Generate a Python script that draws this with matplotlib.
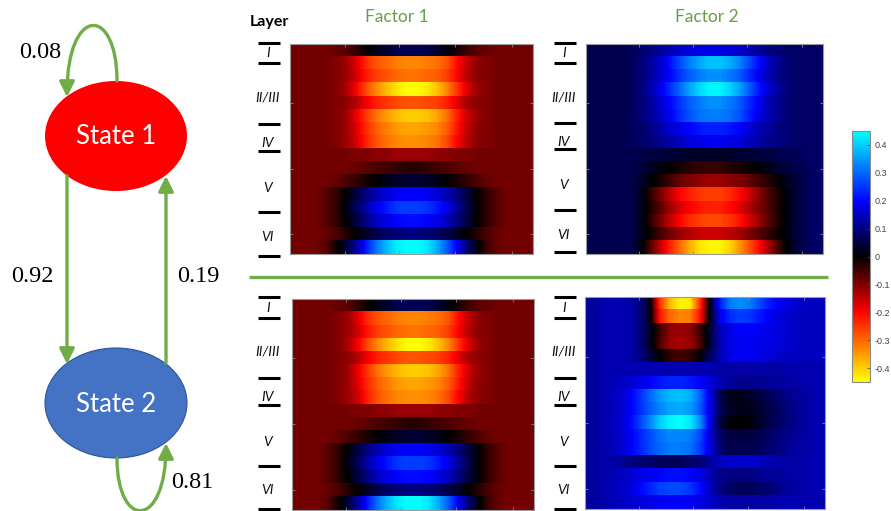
"""
Two-state HMM summary figure: transition diagram on the left,
laminar factor maps for each state on the right.
"""

import matplotlib

matplotlib.use("Agg")

import matplotlib.pyplot as plt
import numpy as np
from matplotlib.colors import LinearSegmentedColormap, Normalize
from matplotlib.patches import Ellipse, FancyArrowPatch
from matplotlib.path import Path

W, H = 891, 511
GREEN = "#70AD47"

# ---------- transition probabilities ----------
P_STAY_1 = 0.08
P_1_TO_2 = 0.92
P_2_TO_1 = 0.19
P_STAY_2 = 0.81

STATE_NAMES = ["State 1", "State 2"]
FACTOR_NAMES = ["Factor 1", "Factor 2"]
LAYER_NAMES = ["I", "II/III", "IV", "V", "VI"]
CBAR_TICKS = [-0.4, -0.3, -0.2, -0.1, 0.0, 0.1, 0.2, 0.3, 0.4]

# ---------- factor loadings (16 depth rows x 24 time bins) ----------
factor1_state1 = [
    [-0.09, -0.09, -0.09, -0.09, -0.08, -0.07, -0.04, -0.01, 0.02, 0.04, 0.06, 0.07, 0.07, 0.06, 0.04, 0.01, -0.02, -0.05, -0.07, -0.08, -0.09, -0.09, -0.09, -0.09],
    [-0.09, -0.09, -0.09, -0.09, -0.10, -0.12, -0.17, -0.24, -0.28, -0.30, -0.32, -0.33, -0.33, -0.32, -0.31, -0.28, -0.21, -0.15, -0.11, -0.10, -0.09, -0.09, -0.09, -0.09],
    [-0.09, -0.09, -0.09, -0.09, -0.10, -0.12, -0.16, -0.22, -0.26, -0.28, -0.30, -0.31, -0.31, -0.30, -0.29, -0.26, -0.20, -0.14, -0.11, -0.10, -0.09, -0.09, -0.09, -0.09],
    [-0.09, -0.09, -0.09, -0.09, -0.10, -0.13, -0.19, -0.27, -0.33, -0.38, -0.42, -0.45, -0.45, -0.43, -0.39, -0.33, -0.25, -0.17, -0.12, -0.10, -0.09, -0.09, -0.09, -0.09],
    [-0.09, -0.09, -0.09, -0.09, -0.10, -0.11, -0.14, -0.19, -0.23, -0.25, -0.27, -0.28, -0.28, -0.27, -0.26, -0.23, -0.18, -0.13, -0.11, -0.10, -0.09, -0.09, -0.09, -0.09],
    [-0.09, -0.09, -0.09, -0.09, -0.10, -0.12, -0.18, -0.25, -0.31, -0.35, -0.38, -0.40, -0.40, -0.39, -0.36, -0.31, -0.23, -0.16, -0.12, -0.10, -0.09, -0.09, -0.09, -0.09],
    [-0.09, -0.09, -0.09, -0.09, -0.10, -0.12, -0.17, -0.24, -0.29, -0.32, -0.35, -0.36, -0.36, -0.35, -0.33, -0.29, -0.22, -0.15, -0.11, -0.10, -0.09, -0.09, -0.09, -0.09],
    [-0.09, -0.09, -0.09, -0.09, -0.10, -0.12, -0.16, -0.23, -0.28, -0.31, -0.33, -0.34, -0.34, -0.33, -0.31, -0.27, -0.20, -0.14, -0.11, -0.10, -0.09, -0.09, -0.09, -0.09],
    [-0.09, -0.09, -0.09, -0.09, -0.09, -0.09, -0.10, -0.10, -0.11, -0.11, -0.12, -0.12, -0.12, -0.12, -0.11, -0.11, -0.10, -0.10, -0.09, -0.09, -0.09, -0.09, -0.09, -0.09],
    [-0.09, -0.09, -0.09, -0.09, -0.09, -0.09, -0.08, -0.07, -0.06, -0.05, -0.04, -0.03, -0.03, -0.04, -0.05, -0.06, -0.07, -0.08, -0.09, -0.09, -0.09, -0.09, -0.09, -0.09],
    [-0.09, -0.09, -0.09, -0.09, -0.08, -0.06, -0.04, -0.02, 0.00, 0.02, 0.03, 0.04, 0.04, 0.03, 0.02, 0.00, -0.02, -0.04, -0.06, -0.08, -0.09, -0.09, -0.09, -0.09],
    [-0.09, -0.09, -0.09, -0.07, -0.04, 0.00, 0.05, 0.10, 0.14, 0.17, 0.19, 0.20, 0.20, 0.19, 0.17, 0.14, 0.10, 0.05, 0.00, -0.04, -0.07, -0.09, -0.09, -0.09],
    [-0.09, -0.09, -0.09, -0.07, -0.04, 0.01, 0.07, 0.13, 0.18, 0.22, 0.25, 0.26, 0.26, 0.25, 0.22, 0.18, 0.12, 0.06, 0.00, -0.04, -0.07, -0.09, -0.09, -0.09],
    [-0.09, -0.09, -0.09, -0.07, -0.04, 0.00, 0.05, 0.10, 0.15, 0.18, 0.20, 0.21, 0.21, 0.20, 0.18, 0.15, 0.10, 0.05, 0.00, -0.04, -0.07, -0.09, -0.09, -0.09],
    [-0.09, -0.09, -0.09, -0.08, -0.06, -0.03, 0.00, 0.03, 0.06, 0.08, 0.09, 0.10, 0.10, 0.09, 0.08, 0.06, 0.03, 0.00, -0.03, -0.06, -0.08, -0.09, -0.09, -0.09],
    [-0.09, -0.09, -0.09, -0.07, -0.02, 0.04, 0.12, 0.22, 0.31, 0.38, 0.43, 0.45, 0.45, 0.43, 0.37, 0.29, 0.19, 0.09, 0.01, -0.05, -0.08, -0.09, -0.09, -0.09],
]

factor2_state1 = [
    [0.06, 0.06, 0.06, 0.06, 0.07, 0.08, 0.10, 0.12, 0.14, 0.16, 0.17, 0.18, 0.18, 0.18, 0.17, 0.16, 0.14, 0.12, 0.10, 0.09, 0.08, 0.08, 0.08, 0.08],
    [0.06, 0.06, 0.06, 0.06, 0.07, 0.09, 0.12, 0.16, 0.21, 0.27, 0.32, 0.36, 0.39, 0.39, 0.37, 0.33, 0.27, 0.21, 0.15, 0.11, 0.09, 0.08, 0.08, 0.08],
    [0.06, 0.06, 0.06, 0.06, 0.07, 0.09, 0.12, 0.16, 0.20, 0.25, 0.29, 0.32, 0.34, 0.34, 0.32, 0.29, 0.24, 0.19, 0.14, 0.11, 0.09, 0.08, 0.08, 0.08],
    [0.06, 0.06, 0.06, 0.06, 0.07, 0.09, 0.13, 0.18, 0.24, 0.30, 0.36, 0.41, 0.44, 0.44, 0.41, 0.36, 0.29, 0.22, 0.16, 0.12, 0.09, 0.08, 0.08, 0.08],
    [0.06, 0.06, 0.06, 0.06, 0.07, 0.09, 0.12, 0.16, 0.20, 0.25, 0.29, 0.32, 0.34, 0.34, 0.32, 0.29, 0.24, 0.19, 0.14, 0.11, 0.09, 0.08, 0.08, 0.08],
    [0.06, 0.06, 0.06, 0.06, 0.07, 0.09, 0.12, 0.15, 0.19, 0.24, 0.28, 0.31, 0.32, 0.32, 0.31, 0.28, 0.23, 0.18, 0.14, 0.11, 0.09, 0.08, 0.08, 0.08],
    [0.06, 0.06, 0.06, 0.06, 0.07, 0.08, 0.10, 0.13, 0.16, 0.18, 0.20, 0.22, 0.23, 0.23, 0.22, 0.20, 0.17, 0.14, 0.12, 0.10, 0.09, 0.08, 0.08, 0.08],
    [0.06, 0.06, 0.06, 0.06, 0.07, 0.08, 0.09, 0.11, 0.13, 0.15, 0.17, 0.18, 0.19, 0.19, 0.18, 0.17, 0.15, 0.13, 0.11, 0.10, 0.09, 0.08, 0.08, 0.08],
    [0.06, 0.06, 0.06, 0.06, 0.06, 0.06, 0.05, 0.05, 0.04, 0.04, 0.03, 0.03, 0.03, 0.03, 0.03, 0.04, 0.04, 0.05, 0.05, 0.06, 0.07, 0.07, 0.08, 0.08],
    [0.06, 0.06, 0.06, 0.06, 0.06, 0.05, 0.03, 0.01, 0.00, -0.02, -0.03, -0.04, -0.04, -0.04, -0.03, -0.02, -0.01, 0.00, 0.02, 0.04, 0.05, 0.06, 0.07, 0.08],
    [0.06, 0.06, 0.06, 0.06, 0.06, 0.04, 0.01, -0.02, -0.05, -0.08, -0.10, -0.11, -0.12, -0.12, -0.11, -0.10, -0.08, -0.05, -0.03, 0.00, 0.03, 0.05, 0.07, 0.08],
    [0.06, 0.06, 0.06, 0.06, 0.06, 0.03, -0.03, -0.09, -0.15, -0.20, -0.23, -0.25, -0.26, -0.26, -0.24, -0.21, -0.16, -0.11, -0.06, -0.02, 0.02, 0.05, 0.07, 0.08],
    [0.06, 0.06, 0.06, 0.06, 0.06, 0.03, -0.02, -0.07, -0.12, -0.17, -0.20, -0.22, -0.23, -0.23, -0.21, -0.18, -0.14, -0.10, -0.06, -0.02, 0.02, 0.05, 0.07, 0.08],
    [0.06, 0.06, 0.06, 0.06, 0.06, 0.03, -0.03, -0.09, -0.15, -0.20, -0.24, -0.26, -0.27, -0.27, -0.25, -0.22, -0.17, -0.12, -0.07, -0.02, 0.02, 0.05, 0.07, 0.08],
    [0.06, 0.06, 0.06, 0.06, 0.06, 0.03, -0.01, -0.05, -0.09, -0.12, -0.14, -0.16, -0.16, -0.16, -0.15, -0.13, -0.10, -0.07, -0.04, -0.01, 0.02, 0.05, 0.07, 0.08],
    [0.06, 0.06, 0.06, 0.06, 0.06, 0.02, -0.06, -0.15, -0.23, -0.30, -0.37, -0.42, -0.44, -0.44, -0.41, -0.35, -0.28, -0.21, -0.13, -0.05, 0.01, 0.05, 0.07, 0.08],
]

# factor 1 comes out the same in both states
factor1_state2 = factor1_state1

factor2_state2 = [
    [0.12, 0.13, 0.14, 0.14, 0.13, 0.10, 0.02, -0.25, -0.38, -0.44, -0.43, -0.25, 0.02, 0.22, 0.32, 0.34, 0.32, 0.27, 0.22, 0.19, 0.17, 0.16, 0.15, 0.15],
    [0.12, 0.13, 0.14, 0.14, 0.13, 0.10, 0.02, -0.22, -0.30, -0.33, -0.32, -0.22, 0.02, 0.18, 0.24, 0.26, 0.25, 0.22, 0.19, 0.17, 0.16, 0.15, 0.15, 0.15],
    [0.12, 0.13, 0.14, 0.14, 0.13, 0.10, 0.03, -0.05, -0.11, -0.12, -0.11, -0.05, 0.04, 0.14, 0.18, 0.20, 0.20, 0.19, 0.18, 0.17, 0.16, 0.15, 0.15, 0.15],
    [0.12, 0.13, 0.14, 0.14, 0.13, 0.10, 0.03, -0.06, -0.12, -0.13, -0.12, -0.06, 0.04, 0.14, 0.18, 0.19, 0.19, 0.18, 0.18, 0.17, 0.16, 0.15, 0.15, 0.15],
    [0.12, 0.13, 0.14, 0.14, 0.13, 0.10, 0.05, 0.00, -0.04, -0.05, -0.04, 0.00, 0.07, 0.14, 0.18, 0.19, 0.19, 0.18, 0.17, 0.16, 0.15, 0.15, 0.15, 0.15],
    [0.12, 0.13, 0.14, 0.14, 0.14, 0.14, 0.14, 0.14, 0.14, 0.14, 0.14, 0.14, 0.14, 0.13, 0.13, 0.13, 0.13, 0.13, 0.13, 0.13, 0.14, 0.14, 0.14, 0.14],
    [0.12, 0.13, 0.14, 0.15, 0.16, 0.18, 0.20, 0.22, 0.23, 0.23, 0.22, 0.20, 0.17, 0.14, 0.12, 0.11, 0.11, 0.11, 0.12, 0.12, 0.13, 0.13, 0.14, 0.14],
    [0.12, 0.13, 0.14, 0.16, 0.19, 0.24, 0.30, 0.35, 0.38, 0.39, 0.37, 0.30, 0.18, 0.06, 0.02, 0.02, 0.03, 0.05, 0.07, 0.09, 0.11, 0.12, 0.13, 0.14],
    [0.12, 0.13, 0.14, 0.16, 0.19, 0.24, 0.29, 0.33, 0.36, 0.37, 0.35, 0.29, 0.18, 0.07, 0.03, 0.02, 0.02, 0.04, 0.06, 0.08, 0.10, 0.12, 0.13, 0.14],
    [0.12, 0.13, 0.14, 0.16, 0.20, 0.26, 0.33, 0.40, 0.44, 0.45, 0.43, 0.34, 0.18, 0.05, 0.01, 0.00, 0.01, 0.03, 0.06, 0.08, 0.10, 0.12, 0.13, 0.14],
    [0.12, 0.13, 0.14, 0.16, 0.19, 0.23, 0.27, 0.31, 0.33, 0.33, 0.32, 0.27, 0.17, 0.08, 0.05, 0.05, 0.05, 0.06, 0.08, 0.10, 0.11, 0.12, 0.13, 0.14],
    [0.12, 0.13, 0.14, 0.16, 0.19, 0.23, 0.27, 0.30, 0.32, 0.32, 0.31, 0.26, 0.17, 0.09, 0.06, 0.06, 0.06, 0.07, 0.09, 0.10, 0.12, 0.13, 0.13, 0.14],
    [0.12, 0.13, 0.13, 0.12, 0.10, 0.09, 0.08, 0.07, 0.07, 0.07, 0.08, 0.09, 0.12, 0.15, 0.16, 0.16, 0.16, 0.15, 0.14, 0.13, 0.13, 0.13, 0.14, 0.14],
    [0.12, 0.13, 0.14, 0.15, 0.16, 0.18, 0.19, 0.20, 0.21, 0.21, 0.20, 0.18, 0.14, 0.11, 0.10, 0.10, 0.10, 0.11, 0.12, 0.12, 0.13, 0.13, 0.14, 0.14],
    [0.12, 0.13, 0.14, 0.15, 0.17, 0.20, 0.23, 0.26, 0.27, 0.27, 0.25, 0.21, 0.15, 0.10, 0.08, 0.07, 0.07, 0.08, 0.09, 0.11, 0.12, 0.13, 0.14, 0.14],
    [0.12, 0.13, 0.14, 0.15, 0.16, 0.17, 0.18, 0.19, 0.20, 0.20, 0.19, 0.18, 0.16, 0.14, 0.13, 0.13, 0.13, 0.13, 0.13, 0.14, 0.14, 0.14, 0.14, 0.14],
]

# laminar boundary marks (y, px) and label centres for each panel
top_bounds_left = [43, 63, 124, 151, 212, 256]
top_labels_left = [53, 97, 143, 188, 237]
top_bounds_right = [43, 63, 123, 149, 210, 252]
top_labels_right = [53, 97, 142, 185, 235]
bottom_bounds = [297, 318, 378, 405, 466, 509]
bottom_labels = [308, 351, 397, 442, 490]


def px_axes(fig, x0, y0, x1, y1):
    return fig.add_axes([x0 / W, 1 - y1 / H, (x1 - x0) / W, (y1 - y0) / H])


def hot_cold_cmap(norm):
    stops = [(-0.45, "#FFFF00"), (-0.2, "#FF0000"), (0.0, "#000000"),
             (0.2, "#0000FF"), (0.45, "#00FFFF")]
    return LinearSegmentedColormap.from_list(
        "hotcold", [(float(norm(v)), c) for v, c in stops])


def heatmap(fig, box, data, cmap, norm):
    ax = px_axes(fig, *box)
    grid = np.array(data)
    n_rows, n_cols = grid.shape
    # each depth row is its own strip so the smoothing stays horizontal
    for r in range(n_rows):
        im = ax.imshow(grid[r:r + 1], cmap=cmap, norm=norm, aspect="auto",
                       interpolation="bilinear",
                       extent=(-0.5, n_cols - 0.5, r + 0.5, r - 0.5))
    ax.set_xlim(-0.5, n_cols - 0.5)
    ax.set_ylim(n_rows - 0.5, -0.5)
    ax.set_xticks([4.9, 10.3, 15.8, 21.4])
    ax.set_yticks([4, 9, 14])
    ax.tick_params(direction="in", length=2, width=0.6, color="#888888",
                   top=True, right=True, labelbottom=False, labelleft=False)
    for s in ax.spines.values():
        s.set_edgecolor("#9a9a9a")
        s.set_linewidth(0.8)
    return im


def layer_marks(ax, xc, bounds, label_ys):
    for y in bounds:
        ax.plot([xc - 11, xc + 11], [y, y], color="black", lw=2.2,
                solid_capstyle="butt")
    for name, y in zip(LAYER_NAMES, label_ys):
        ax.text(xc - 1, y, name, ha="center", va="center", fontsize=10,
                style="italic", family="Lato", color="#111111")


def state_diagram(ax):
    ax.add_patch(Ellipse((116, 136), 142, 110, fc="#FF0000", ec="none"))
    ax.add_patch(Ellipse((116, 403), 142, 110, fc="#4472C4", ec="#2F5597", lw=0.8))
    for y, name in zip([136, 403], STATE_NAMES):
        ax.text(116, y + 1, name, ha="center", va="center", color="white",
                fontsize=18.5, family="Lato")

    style = "-|>,head_length=0.6,head_width=0.3"
    kw = dict(arrowstyle=style, mutation_scale=15, color=GREEN, lw=2.4,
              shrinkA=0, shrinkB=0)
    ax.add_patch(FancyArrowPatch((67, 176), (67, 364), **kw))
    ax.add_patch(FancyArrowPatch((166, 363), (166, 176), **kw))

    curve = [Path.MOVETO, Path.CURVE4, Path.CURVE4, Path.CURVE4]
    loop_top = Path([(117, 81), (117, 5), (67, 5), (67, 97)], curve)
    loop_bottom = Path([(117, 458), (117, 530), (166, 530), (166, 443)], curve)
    ax.add_patch(FancyArrowPatch(path=loop_top, **kw))
    ax.add_patch(FancyArrowPatch(path=loop_bottom, **kw, clip_on=False))

    num = dict(ha="center", va="center", fontsize=17.5, family="Liberation Serif")
    ax.text(40, 53, f"{P_STAY_1:.2f}", **num)
    ax.text(32, 277, f"{P_1_TO_2:.2f}", **num)
    ax.text(198, 277, f"{P_2_TO_1:.2f}", **num)
    ax.text(192, 482, f"{P_STAY_2:.2f}", **num)


def main():
    fig = plt.figure(figsize=(W / 100, H / 100), dpi=100)
    base = fig.add_axes([0, 0, 1, 1])
    base.set_xlim(0, W)
    base.set_ylim(H, 0)
    base.axis("off")

    state_diagram(base)

    # titles and layer guides
    base.text(269, 22, "Layer", ha="center", va="center", fontsize=11.5,
              weight="bold", family="Lato")
    for xc, name in zip([397, 707], FACTOR_NAMES):
        base.text(xc, 17, name, ha="center", va="center", fontsize=12.5,
                  family="Lato", color="#6A9E43")
    layer_marks(base, 269, top_bounds_left, top_labels_left)
    layer_marks(base, 565, top_bounds_right, top_labels_right)
    layer_marks(base, 269, bottom_bounds, bottom_labels)
    layer_marks(base, 565, bottom_bounds, bottom_labels)
    base.plot([249, 828], [277, 277], color=GREEN, lw=2.4, solid_capstyle="butt")

    norm = Normalize(vmin=-0.45, vmax=0.45)
    cmap = hot_cold_cmap(norm)
    heatmap(fig, (290, 44, 533, 254), factor1_state1, cmap, norm)
    im = heatmap(fig, (586, 44, 823, 254), factor2_state1, cmap, norm)
    heatmap(fig, (292, 299, 534, 510), factor1_state2, cmap, norm)
    heatmap(fig, (585, 297, 825, 509), factor2_state2, cmap, norm)

    cax = px_axes(fig, 852, 131, 870, 382)
    cb = fig.colorbar(im, cax=cax, ticks=CBAR_TICKS)
    cb.ax.set_yticklabels([f"{t:g}" for t in CBAR_TICKS])
    cb.ax.tick_params(labelsize=6.5, colors="#444444", length=2, width=0.5,
                      direction="in", pad=3)
    for lab in cb.ax.get_yticklabels():
        lab.set_family("Liberation Sans")
    cb.outline.set_edgecolor("#8a8a8a")
    cb.outline.set_linewidth(0.8)

    fig.savefig("out.png", dpi=100)
    plt.close(fig)


if __name__ == "__main__":
    main()
